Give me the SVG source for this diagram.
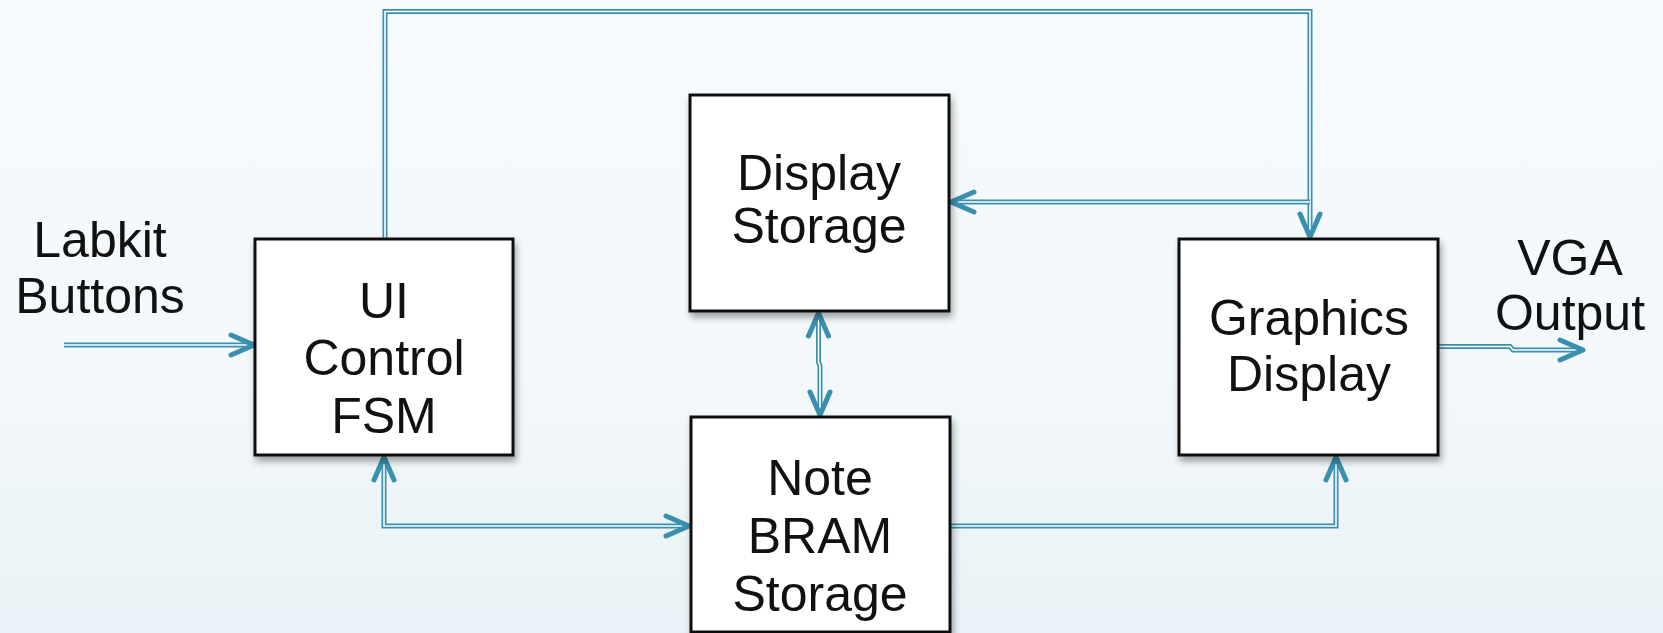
<svg xmlns="http://www.w3.org/2000/svg" xmlns:xlink="http://www.w3.org/1999/xlink" width="1663" height="633" viewBox="0 0 1663 633">
  <defs>
    <linearGradient id="bg" x1="0" y1="0" x2="0" y2="1">
      <stop offset="0" stop-color="#f6fafc"/>
      <stop offset="0.6" stop-color="#f3f8fb"/>
      <stop offset="1" stop-color="#e9f2f6"/>
    </linearGradient>
    <filter id="shadow" x="-10%" y="-10%" width="125%" height="130%">
      <feDropShadow dx="2" dy="5" stdDeviation="3.5" flood-color="#000" flood-opacity="0.35"/>
    </filter>
    <!-- open chevron head, tip at origin, pointing right -->
    <path id="head" d="M-23,-10 L0,0 L-23,10"/>
    <style>
      .box { fill: #ffffff; stroke: #111111; stroke-width: 3; filter: url(#shadow); }
      .label { font-family: "Liberation Sans", Arial, sans-serif; font-size: 50px; fill: #111111; text-anchor: middle; }
      .wire-out { fill: none; stroke: #3a8fae; stroke-width: 5; stroke-linejoin: miter; }
      .wire-in { fill: none; stroke: #ffffff; stroke-width: 1.6; stroke-linejoin: miter; }
      .head { fill: none; stroke: #3a8fae; stroke-width: 5; stroke-linecap: round; stroke-linejoin: round; }
    </style>
  </defs>

  <rect x="0" y="0" width="1663" height="633" fill="url(#bg)"/>

  <!-- connectors -->
  <g id="connectors">
    <g id="wires">
      <!-- buttons into the FSM -->
      <path class="wire-out" d="M64,345 H252"/>
      <path class="wire-in" d="M64,345 H252"/>
      <!-- FSM over the top to the graphics block, with a branch to display storage -->
      <path class="wire-out" d="M385,239 V11.5 H1310 V235"/>
      <path class="wire-in" d="M385,239 V11.5 H1310 V235"/>
      <path class="wire-out" d="M1310,202 H953"/>
      <path class="wire-in" d="M1310,202 H953"/>
      <!-- display storage to note storage -->
      <path class="wire-out" d="M818.5,315 V362 L820,366 V413"/>
      <path class="wire-in" d="M818.5,315 V362 L820,366 V413"/>
      <!-- FSM to note storage -->
      <path class="wire-out" d="M384,459 V526 H687"/>
      <path class="wire-in" d="M384,459 V526 H687"/>
      <!-- note storage to graphics -->
      <path class="wire-out" d="M951,526 H1336 V459"/>
      <path class="wire-in" d="M951,526 H1336 V459"/>
      <!-- VGA output -->
      <path class="wire-out" d="M1439,346.5 H1510 L1513,350 H1581"/>
      <path class="wire-in" d="M1439,346.5 H1510 L1513,350 H1581"/>
    </g>
    <g id="arrowheads" class="head">
      <use xlink:href="#head" transform="translate(254,345)"/>
      <use xlink:href="#head" transform="translate(1310,237) rotate(90)"/>
      <use xlink:href="#head" transform="translate(951,202) rotate(180)"/>
      <use xlink:href="#head" transform="translate(818.5,313) rotate(-90)"/>
      <use xlink:href="#head" transform="translate(820,415) rotate(90)"/>
      <use xlink:href="#head" transform="translate(384,457) rotate(-90)"/>
      <use xlink:href="#head" transform="translate(689,526)"/>
      <use xlink:href="#head" transform="translate(1336,457) rotate(-90)"/>
      <use xlink:href="#head" transform="translate(1583,350)"/>
    </g>
  </g>

  <!-- free labels -->
  <g id="labkit-buttons">
    <text class="label" x="100" y="257">Labkit</text>
    <text class="label" x="100" y="313">Buttons</text>
  </g>
  <g id="vga-output">
    <text class="label" x="1570" y="275">VGA</text>
    <text class="label" x="1570" y="330">Output</text>
  </g>

  <!-- blocks -->
  <g id="ui-control-fsm">
    <rect class="box" x="255" y="239" width="258" height="216"/>
    <text class="label" x="384" y="318">UI</text>
    <text class="label" x="384" y="375">Control</text>
    <text class="label" x="384" y="433">FSM</text>
  </g>
  <g id="display-storage">
    <rect class="box" x="690" y="95" width="259" height="216"/>
    <text class="label" x="819" y="190">Display</text>
    <text class="label" x="819" y="243">Storage</text>
  </g>
  <g id="graphics-display">
    <rect class="box" x="1179" y="239" width="259" height="216"/>
    <text class="label" x="1309" y="335">Graphics</text>
    <text class="label" x="1309" y="391">Display</text>
  </g>
  <g id="note-bram-storage">
    <rect class="box" x="691" y="417" width="259" height="215"/>
    <text class="label" x="820" y="495">Note</text>
    <text class="label" x="820" y="553">BRAM</text>
    <text class="label" x="820" y="611">Storage</text>
  </g>
</svg>
